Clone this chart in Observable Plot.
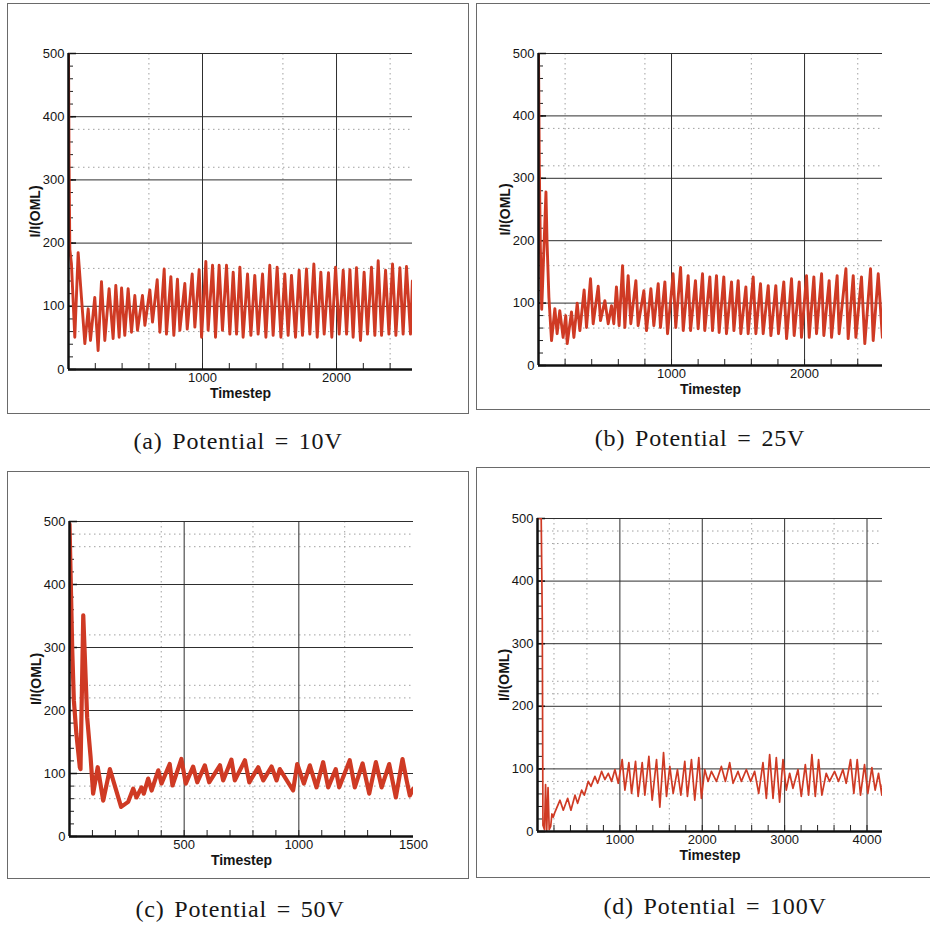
<!DOCTYPE html>
<html><head><meta charset="utf-8">
<script src="https://cdn.jsdelivr.net/npm/d3@7"></script>
<script src="https://cdn.jsdelivr.net/npm/@observablehq/plot@0.6"></script>
<style>
body{margin:0;background:#fff;overflow:hidden}
#page{position:relative;width:930px;height:926px;overflow:hidden;background:#fff}
.panel{position:absolute;outline:1px solid #6a6a6a}
.cap{position:absolute;font-family:"Liberation Serif","Times New Roman",serif;font-size:24px;color:#161616;transform:translate(-50%,-50%);white-space:nowrap;letter-spacing:0.8px;word-spacing:3px}
g[aria-label="x-axis label"] text, g[aria-label="y-axis label"] text{font-weight:bold;font-size:14px}
</style></head><body><div id="page"></div>
<script>
// ---- data: I/I(OML) versus timestep ----
const seriesA = [[0,500],[4,330],[10,190],[22,167],[47,51],[72,185],[122,41],[147,96],[164,46],[196,114],[221,30],[246,139],[271,46],[303,128],[333,49],[353,133],[378,51],[396,129],[420,54],[445,128],[470,59],[495,117],[515,62],[552,117],[570,70],[607,126],[627,75],[662,142],[682,59],[714,159],[731,56],[764,147],[786,54],[813,143],[831,62],[868,136],[886,64],[923,151],[943,67],[975,158],[993,51],[1025,171],[1042,62],[1075,165],[1097,51],[1124,165],[1149,62],[1179,165],[1204,56],[1229,154],[1254,56],[1279,162],[1303,51],[1336,151],[1361,54],[1390,149],[1415,56],[1448,151],[1473,51],[1502,165],[1527,54],[1557,162],[1585,51],[1614,151],[1639,54],[1664,149],[1694,51],[1721,157],[1746,54],[1776,159],[1801,56],[1831,167],[1856,51],[1883,154],[1908,56],[1940,153],[1965,51],[1993,162],[2020,56],[2050,157],[2075,56],[2100,158],[2124,51],[2149,161],[2179,46],[2206,154],[2231,56],[2261,162],[2286,54],[2311,172],[2336,54],[2366,157],[2391,56],[2418,167],[2443,54],[2473,161],[2497,56],[2522,163],[2552,56],[2566,140]];
const seriesB = [[0,500],[6,320],[14,190],[24,90],[36,160],[48,230],[56,278],[64,200],[78,110],[98,40],[123,91],[140,51],[160,88],[185,45],[205,80],[216,35],[248,86],[266,45],[291,100],[311,56],[343,121],[361,61],[391,139],[411,67],[449,127],[466,72],[499,104],[524,67],[549,96],[566,67],[586,126],[606,64],[632,160],[649,61],[674,144],[694,67],[732,136],[749,64],[792,120],[812,56],[845,123],[867,64],[900,131],[917,61],[950,134],[970,51],[1012,147],[1032,61],[1068,157],[1088,56],[1125,144],[1143,56],[1180,136],[1200,59],[1233,147],[1250,56],[1288,142],[1308,56],[1338,144],[1358,53],[1393,142],[1413,51],[1451,134],[1469,56],[1501,136],[1521,51],[1559,126],[1576,51],[1614,142],[1634,51],[1669,131],[1689,51],[1727,128],[1747,48],[1784,128],[1804,51],[1844,134],[1865,43],[1902,139],[1922,48],[1960,134],[1977,45],[2015,144],[2035,45],[2070,142],[2090,51],[2128,147],[2145,48],[2185,136],[2203,45],[2245,144],[2260,51],[2311,155],[2328,43],[2366,144],[2386,45],[2428,142],[2453,35],[2496,155],[2516,40],[2554,147],[2585,45]];
const seriesC = [[0,496],[12,295],[19,216],[30,163],[45,110],[48,107],[60,351],[77,189],[92,126],[103,68],[123,110],[147,57],[176,107],[225,47],[256,55],[278,76],[292,62],[314,78],[324,68],[343,92],[358,73],[387,105],[401,84],[437,115],[449,81],[488,123],[507,84],[539,111],[557,86],[590,113],[609,86],[656,113],[670,89],[706,122],[721,89],[765,121],[784,86],[823,110],[845,89],[881,111],[903,89],[917,107],[975,73],[993,115],[1022,84],[1048,113],[1077,78],[1106,118],[1128,78],[1161,107],[1176,78],[1222,121],[1244,78],[1278,116],[1307,68],[1336,118],[1361,78],[1394,115],[1423,62],[1452,123],[1470,89],[1484,65],[1499,76]];
const seriesD = [[0,500],[45,500],[58,340],[66,10],[85,3],[98,75],[112,2],[128,70],[142,3],[160,8],[175,28],[192,23],[212,31],[273,50],[313,34],[366,53],[406,34],[455,58],[487,45],[536,66],[568,58],[616,80],[649,72],[697,88],[730,77],[778,96],[818,83],[859,93],[899,80],[940,99],[980,77],[1028,115],[1061,66],[1109,110],[1142,61],[1190,112],[1222,56],[1271,110],[1303,58],[1352,120],[1392,50],[1445,115],[1485,39],[1530,126],[1566,56],[1606,104],[1647,61],[1699,99],[1740,58],[1788,112],[1820,56],[1869,115],[1909,50],[1958,118],[1990,53],[2030,99],[2071,80],[2111,96],[2172,80],[2232,104],[2281,80],[2333,110],[2374,77],[2434,96],[2475,80],[2535,99],[2588,80],[2636,96],[2685,61],[2737,110],[2778,53],[2818,123],[2859,53],[2899,118],[2939,47],[2980,115],[3020,66],[3061,93],[3101,69],[3162,99],[3202,56],[3251,107],[3291,58],[3331,123],[3372,56],[3412,115],[3452,58],[3505,93],[3545,80],[3606,96],[3654,80],[3707,99],[3747,77],[3800,115],[3840,61],[3881,115],[3921,58],[3970,107],[4010,61],[4059,102],[4099,66],[4140,93],[4180,58],[4188,75]];

const captions = ["(a) Potential = 10V", "(b) Potential = 25V", "(c) Potential = 50V", "(d) Potential = 100V"];
const xMaxes = [2567, 2586, 1500, 4188];
const xLabelTicks = [[1000, 2000], [1000, 2000], [500, 1000, 1500], [1000, 2000, 3000, 4000]];
const xMinorSteps = [200, 200, 100, 200];
const xDotted = [[600, 1600, 2400], [200, 800, 1600, 2400], [400, 800, 1200], [200, 600, 1600, 2600, 3600]];
const yDotted = [[60, 160, 320, 380], [60, 80, 160, 320, 380], [60, 80, 220, 240, 320, 460, 480], [60, 80, 220, 240, 320, 460, 480]];
const yLabelTicks = [0, 100, 200, 300, 400, 500];
const yMajorLines = [100, 200, 300, 400, 500];
const yMinorTicks = d3.range(0, 501, 20);

const page = document.getElementById("page");
const lineColor = "#cf3a24";

// layout: [left, top, width, height, mTop, mRight, mBottom, mLeft, strokeWidth]
const layout = [
  [8, 4, 460, 409, 49, 56, 44, 60, 2.9],
  [477, 4, 460, 405, 49, 55, 44, 61, 2.9],
  [8, 472, 460, 406, 49, 55, 42, 61, 4.2],
  [477, 468, 460, 409, 50, 55, 46, 60, 1.7]
];
const captionPos = [[238, 441], [700, 438], [240, 909], [715, 906]];
const allSeries = [seriesA, seriesB, seriesC, seriesD];

allSeries.forEach((data, i) => {
  const [left, top, width, height, mt, mr, mb, ml, sw] = layout[i];
  const pw = width - ml - mr, ph = height - mt - mb;
  const xMax = xMaxes[i];
  const xMinor = d3.range(xMinorSteps[i], xMax, xMinorSteps[i]);
  const chart = Plot.plot({
    width, height, marginTop: mt, marginRight: mr, marginBottom: mb, marginLeft: ml,
    style: {background: "#fff", fontFamily: "'Liberation Sans', Arial, sans-serif", fontSize: "13px", color: "#151515"},
    x: {domain: [0, xMax]},
    y: {domain: [0, 500]},
    marks: [
      Plot.ruleY(yDotted[i], {stroke: "#a0a0a0", strokeDasharray: "1.5,3.5", strokeWidth: 1}),
      Plot.ruleX(xDotted[i], {stroke: "#a0a0a0", strokeDasharray: "1.5,3.5", strokeWidth: 1}),
      Plot.ruleY(yMajorLines, {stroke: "#2e2e2e", strokeWidth: 1}),
      Plot.ruleX(xLabelTicks[i].filter(v => v < xMax), {stroke: "#2e2e2e", strokeWidth: 1}),
      Plot.tickY(yMinorTicks, {y: d => d, insetRight: pw - 5, stroke: "#222"}),
      Plot.tickY(yLabelTicks, {y: d => d, insetRight: pw - 8, stroke: "#111", strokeWidth: 1.5}),
      Plot.tickX(xMinor, {x: d => d, insetTop: ph - 6, stroke: "#222"}),
      Plot.line(data, {x: d => d[0], y: d => d[1], stroke: lineColor, strokeWidth: sw, strokeLinejoin: "round", clip: true}),
      Plot.ruleX([0], {stroke: "#111", strokeWidth: 2.5}),
      Plot.ruleY([0], {stroke: "#111", strokeWidth: 2.5}),
      Plot.axisY(yLabelTicks, {tickSize: 0, tickPadding: 4, tickFormat: d => String(d), label: "I/I(OML)", labelAnchor: "center", labelArrow: "none", labelOffset: 38}),
      Plot.axisX(xLabelTicks[i], {tickSize: 0, tickPadding: 3, tickFormat: d => String(d), label: "Timestep", labelAnchor: "center", labelArrow: "none", labelOffset: 28})
    ]
  });
  chart.classList.add("panel");
  chart.style.left = left + "px";
  chart.style.top = top + "px";
  page.appendChild(chart);

  const cap = document.createElement("div");
  cap.className = "cap";
  cap.textContent = captions[i];
  cap.style.left = captionPos[i][0] + "px";
  cap.style.top = captionPos[i][1] + "px";
  page.appendChild(cap);
});
</script></body></html>
